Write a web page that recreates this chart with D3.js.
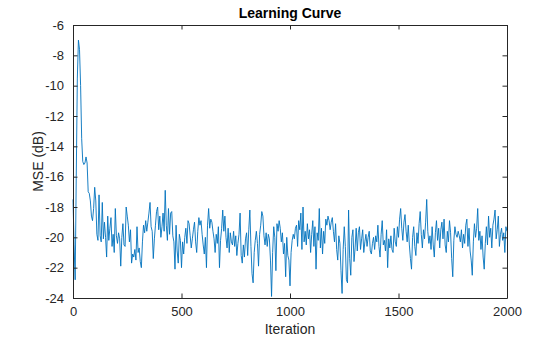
<!DOCTYPE html>
<html>
<head>
<meta charset="utf-8">
<script src="https://cdn.jsdelivr.net/npm/d3@7"></script>
<style>
  body { margin: 0; background: #fff; }
  svg { font-family: "Liberation Sans", Arial, Helvetica, sans-serif; }
</style>
</head>
<body>
<div id="graphHolder"></div>
<script>
// sample spacing of the learning curve (iterations)
var iterStep = 5;
// MSE in dB, one value per iterStep, iterations 0..2000
var mseDb = [
  -17.5,-20.5,-22.8,-16.0,-9.5,-7.0,-7.6,-10.0,-13.5,-15.0,-15.2,-15.1,-14.7,-15.1,-17.0,-17.1,-17.6,-18.6,-18.9,-18.1,
  -16.7,-17.6,-19.8,-20.2,-17.2,-19.9,-20.3,-17.7,-20.1,-19.0,-20.0,-21.3,-18.6,-20.2,-19.4,-18.7,-20.6,-19.8,-21.0,-18.1,
  -19.9,-20.4,-19.7,-20.1,-21.9,-20.0,-19.1,-20.5,-20.6,-18.0,-18.6,-19.2,-20.3,-19.5,-21.7,-21.1,-21.3,-20.8,-21.5,-19.3,
  -21.0,-20.7,-21.6,-22.0,-20.3,-19.2,-19.7,-18.9,-19.6,-19.0,-18.4,-17.7,-19.3,-19.6,-21.4,-20.1,-19.2,-18.3,-18.0,-19.5,
  -18.6,-20.0,-19.3,-18.4,-19.6,-16.9,-19.2,-20.2,-18.1,-19.8,-18.4,-18.3,-19.9,-20.3,-22.1,-19.2,-20.9,-21.7,-19.8,-20.2,
  -22.0,-20.3,-21.1,-20.0,-19.4,-20.4,-18.9,-19.1,-19.9,-20.7,-20.1,-19.5,-19.0,-20.3,-21.0,-19.6,-18.7,-19.2,-18.9,-19.8,
  -20.5,-21.1,-20.0,-22.0,-19.2,-18.1,-19.4,-18.8,-19.0,-19.6,-20.1,-21.0,-19.8,-20.4,-19.3,-22.0,-20.2,-19.4,-18.2,-19.6,
  -18.6,-20.0,-20.7,-19.4,-21.0,-19.7,-20.3,-20.5,-19.6,-20.6,-19.9,-21.2,-20.4,-19.8,-18.4,-21.2,-21.7,-20.5,-21.3,-20.1,
  -19.7,-21.2,-19.5,-18.2,-20.6,-22.4,-23.0,-21.0,-20.2,-19.6,-20.4,-21.9,-19.8,-19.2,-18.3,-18.6,-19.9,-20.5,-19.7,-20.6,
  -19.8,-20.1,-21.5,-23.9,-21.0,-19.3,-20.0,-22.2,-19.1,-19.6,-18.9,-19.4,-20.3,-19.7,-21.1,-20.4,-22.6,-20.0,-21.2,-21.5,
  -23.2,-21.0,-20.2,-19.8,-20.1,-19.4,-19.2,-20.6,-18.9,-19.5,-18.4,-20.8,-18.0,-20.3,-19.6,-20.5,-19.1,-20.1,-19.5,-21.0,
  -19.8,-18.9,-20.6,-19.3,-22.1,-19.7,-20.2,-18.1,-20.7,-19.4,-21.1,-19.6,-20.4,-18.8,-19.2,-18.6,-18.9,-19.5,-19.0,-18.7,
  -19.6,-20.3,-19.1,-20.8,-21.5,-19.9,-20.4,-22.2,-23.7,-20.8,-19.3,-20.6,-22.8,-23.0,-18.2,-21.4,-22.5,-20.0,-19.5,-21.6,
  -20.7,-19.4,-20.9,-19.7,-19.3,-20.8,-20.1,-19.5,-21.0,-20.3,-19.8,-20.6,-20.0,-19.6,-20.9,-21.1,-20.4,-20.0,-20.8,-19.9,
  -20.3,-19.2,-20.6,-21.3,-19.8,-18.9,-20.5,-20.2,-20.9,-19.5,-22.0,-20.1,-20.7,-19.9,-20.8,-21.0,-19.4,-20.3,-20.6,-19.3,
  -20.0,-18.8,-18.1,-19.4,-20.2,-19.0,-18.5,-19.6,-20.3,-19.2,-20.5,-21.4,-22.1,-20.0,-19.3,-20.6,-21.2,-19.7,-20.4,-19.1,
  -18.3,-19.8,-20.7,-19.5,-20.1,-19.0,-17.5,-19.6,-20.4,-19.9,-20.8,-19.3,-20.5,-21.3,-19.7,-18.9,-20.2,-19.4,-20.7,-19.5,
  -19.0,-20.1,-18.8,-20.5,-21.0,-19.6,-20.3,-18.9,-19.7,-21.4,-22.6,-20.2,-19.3,-19.8,-20.0,-19.6,-19.9,-20.3,-19.5,-20.7,
  -19.8,-20.4,-19.2,-18.8,-20.6,-19.4,-20.9,-21.5,-22.5,-20.3,-19.1,-20.0,-19.4,-18.1,-20.2,-19.6,-20.8,-19.9,-21.3,-22.1,
  -20.4,-19.3,-20.5,-18.6,-20.0,-19.4,-20.7,-19.2,-18.8,-18.2,-20.1,-19.5,-18.6,-20.6,-19.8,-19.4,-20.2,-19.7,-21.0,-19.3,
  -19.6
];
var xTicks = [0, 500, 1000, 1500, 2000];
var yTicks = [-24, -22, -20, -18, -16, -14, -12, -10, -8, -6];
var titleText = "Learning Curve";
var xLabelText = "Iteration";
var yLabelText = "MSE (dB)";

var W = 560, H = 337;
var plotLeft = 73, plotRight = 507, plotTop = 25, plotBottom = 298;
var axisColor = "#262626";
var lineColor = "#0072BD";

var svg = d3.select("#graphHolder")
	.append("svg")
	.attr("width", W)
	.attr("height", H);

var xscale = d3.scaleLinear()
	.domain([0, 2000])
	.range([plotLeft, plotRight]);
var yscale = d3.scaleLinear()
	.domain([-24, -6])
	.range([plotBottom, plotTop]);

// the curve
var line = d3.line()
	.x(function(d, i){ return xscale(i*iterStep); })
	.y(function(d){ return yscale(d); });
svg.append("path")
	.datum(mseDb)
	.attr("d", line)
	.attr("fill", "none")
	.attr("stroke", lineColor)
	.attr("stroke-width", 0.9)
	.attr("stroke-linejoin", "round");

// box axes, ticks pointing inward like matlab
var tickLen = 4.5;
function styleAxis(g){
	g.select(".domain").attr("stroke", axisColor).attr("stroke-width", 1);
	g.selectAll(".tick line").attr("stroke", axisColor).attr("stroke-width", 1);
	g.selectAll(".tick text").attr("fill", axisColor).style("font-size", "13px");
}
svg.append("g")
	.attr("transform", "translate(0," + plotBottom + ")")
	.call(d3.axisBottom(xscale).tickValues(xTicks).tickSizeInner(-tickLen).tickSizeOuter(0).tickPadding(9).tickFormat(d3.format("d")))
	.call(styleAxis)
	.attr("font-family", null);
svg.append("g")
	.attr("transform", "translate(0," + plotTop + ")")
	.call(d3.axisTop(xscale).tickValues(xTicks).tickSizeInner(-tickLen).tickSizeOuter(0).tickFormat(""))
	.call(styleAxis);
svg.append("g")
	.attr("transform", "translate(" + plotLeft + ",0)")
	.call(d3.axisLeft(yscale).tickValues(yTicks).tickSizeInner(-tickLen).tickSizeOuter(0).tickPadding(9).tickFormat(d3.format("d")))
	.call(styleAxis)
	.attr("font-family", null);
svg.append("g")
	.attr("transform", "translate(" + plotRight + ",0)")
	.call(d3.axisRight(yscale).tickValues(yTicks).tickSizeInner(-tickLen).tickSizeOuter(0).tickFormat(""))
	.call(styleAxis);
// make the minus signs plain hyphens like the reference
svg.selectAll(".tick text").text(function(){ return this.textContent.replace("\u2212", "-"); });

// labels
svg.append("text")
	.text(titleText)
	.attr("x", (plotLeft + plotRight)/2)
	.attr("y", 18)
	.attr("text-anchor", "middle")
	.style("font-size", "14px")
	.style("font-weight", "bold")
	.attr("fill", "#000");
svg.append("text")
	.text(xLabelText)
	.attr("x", (plotLeft + plotRight)/2)
	.attr("y", 334)
	.attr("text-anchor", "middle")
	.style("font-size", "14px")
	.attr("fill", axisColor);
svg.append("text")
	.text(yLabelText)
	.attr("text-anchor", "middle")
	.attr("transform", "translate(43," + (plotTop + plotBottom)/2 + ") rotate(-90)")
	.style("font-size", "14px")
	.attr("fill", axisColor);
</script>
</body>
</html>
